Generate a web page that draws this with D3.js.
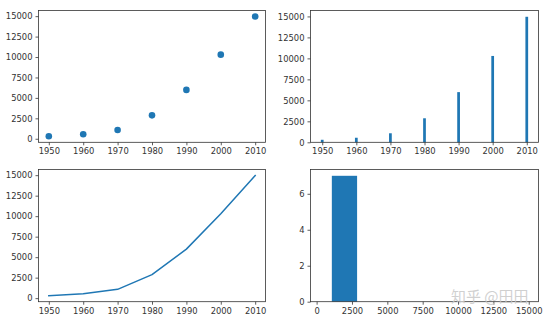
<!DOCTYPE html>
<html><head><meta charset="utf-8">
<script src="https://cdn.jsdelivr.net/npm/d3@7"></script>
<style>
body{margin:0;background:#fff;}
svg{display:block;}
.tick text{font-family:"DejaVu Sans",sans-serif;font-size:8.4px;fill:#333;}
</style></head>
<body><svg id="c" width="550" height="323"></svg>
<script>
const years = [1950, 1960, 1970, 1980, 1990, 2000, 2010];
const gdp = [300.2, 543.3, 1075.9, 2862.5, 5979.6, 10289.7, 14958.3];
const yearTicks = [1950, 1960, 1970, 1980, 1990, 2000, 2010];
const gdpTicks = [0, 2500, 5000, 7500, 10000, 12500, 15000];
const histBins = gdp; // histogram of years with gdp values as bin edges
const histYTicks = [0, 2, 4, 6];
const histXTicks = [0, 2500, 5000, 7500, 10000, 12500, 15000];
const blue = "#1f77b4";

const svg = d3.select("#c");
const panels = {
  tl:{x0:38.5,x1:265.5,y0:10.5,y1:142.3},
  tr:{x0:310.5,x1:538.5,y0:10.5,y1:142.3},
  bl:{x0:38.5,x1:265.5,y0:169.5,y1:301.7},
  br:{x0:310.5,x1:538.5,y0:169.5,y1:301.7}
};
function margin(a,b,f){const d=(b-a)*f;return [a-d,b+d];}

function axes(p, xs, ys, xt, yt){
  const g = svg.append("g");
  const xa = d3.axisBottom(xs).tickValues(xt).tickSize(3).tickPadding(3).tickFormat(d3.format("d"));
  const ya = d3.axisLeft(ys).tickValues(yt).tickSize(3).tickPadding(3).tickFormat(d3.format("d"));
  const gx = g.append("g").attr("transform",`translate(0,${p.y1})`).call(xa);
  const gy = g.append("g").attr("transform",`translate(${p.x0},0)`).call(ya);
  [gx,gy].forEach(a=>{a.select(".domain").remove();a.selectAll(".tick line").attr("stroke","#333").attr("stroke-width",0.8);});
  g.append("rect").attr("x",p.x0).attr("y",p.y0).attr("width",p.x1-p.x0).attr("height",p.y1-p.y0)
    .attr("fill","none").attr("stroke","#333").attr("stroke-width",0.8);
  return g;
}

// shared data
const data = years.map((y,i)=>({year:y,v:gdp[i]}));
const yDomLine = margin(d3.min(gdp), d3.max(gdp), 0.05);
const xDomLine = margin(d3.min(years), d3.max(years), 0.05);

// top-left: scatter
{
  const p = panels.tl;
  const x = d3.scaleLinear().domain(xDomLine).range([p.x0,p.x1]);
  const y = d3.scaleLinear().domain(yDomLine).range([p.y1,p.y0]);
  svg.append("g").selectAll("circle").data(data).join("circle")
    .attr("cx",d=>x(d.year)).attr("cy",d=>y(d.v)).attr("r",3.3).attr("fill",blue);
  axes(p,x,y,yearTicks,gdpTicks);
}
// top-right: bar
{
  const p = panels.tr;
  const bw = 0.8;
  const x = d3.scaleLinear().domain(margin(d3.min(years)-bw/2, d3.max(years)+bw/2, 0.05)).range([p.x0,p.x1]);
  const y = d3.scaleLinear().domain([0, d3.max(gdp)*1.05]).range([p.y1,p.y0]);
  svg.append("g").selectAll("rect").data(data).join("rect")
    .attr("x",d=>x(d.year-bw/2)).attr("width",d=>x(d.year+bw/2)-x(d.year-bw/2))
    .attr("y",d=>y(d.v)).attr("height",d=>y(0)-y(d.v)).attr("fill",blue);
  axes(p,x,y,yearTicks,gdpTicks);
}
// bottom-left: line
{
  const p = panels.bl;
  const x = d3.scaleLinear().domain(xDomLine).range([p.x0,p.x1]);
  const y = d3.scaleLinear().domain(yDomLine).range([p.y1,p.y0]);
  svg.append("path").datum(data).attr("fill","none").attr("stroke",blue).attr("stroke-width",1.5)
    .attr("stroke-linejoin","round").attr("stroke-linecap","square")
    .attr("d",d3.line().x(d=>x(d.year)).y(d=>y(d.v)));
  axes(p,x,y,yearTicks,gdpTicks);
}
// bottom-right: histogram
{
  const p = panels.br;
  const bins = [];
  for(let i=0;i<histBins.length-1;i++){
    const lo=histBins[i], hi=histBins[i+1];
    const last = i===histBins.length-2;
    const c = years.filter(v=>v>=lo && (last? v<=hi : v<hi)).length;
    bins.push({lo,hi,c});
  }
  const x = d3.scaleLinear().domain(margin(histBins[0], histBins[histBins.length-1], 0.05)).range([p.x0,p.x1]);
  const y = d3.scaleLinear().domain([0, d3.max(bins,b=>b.c)*1.05]).range([p.y1,p.y0]);
  svg.append("g").selectAll("rect").data(bins).join("rect")
    .attr("x",b=>x(b.lo)).attr("width",b=>x(b.hi)-x(b.lo))
    .attr("y",b=>y(b.c)).attr("height",b=>y(0)-y(b.c)).attr("fill",blue);
  axes(p,x,y,histXTicks,histYTicks);
}
// watermark
svg.append("text").attr("x",451).attr("y",302).attr("font-family","Noto Sans CJK SC")
  .attr("font-size",15).attr("fill","#c8c8c8").attr("fill-opacity",0.85).text("知乎 @田田");
</script></body></html>
